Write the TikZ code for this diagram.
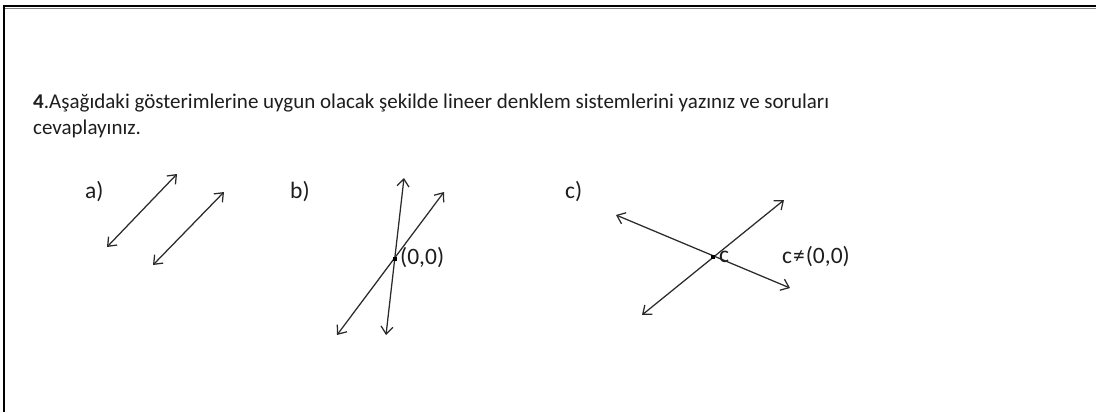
\documentclass[tikz,border=0pt]{standalone}
\usepackage{fontspec}
\setmainfont{Carlito}
\usetikzlibrary{arrows.meta}
\definecolor{ink}{HTML}{1E1E1E}
\definecolor{lineink}{HTML}{2A2A2A}
\tikzset{
  dline/.style={lineink, line width=1.25pt, {Straight Barb[length=7.5pt,width=12pt]}-{Straight Barb[length=7.5pt,width=12pt]}},
  txt/.style={text=ink, inner sep=0pt, font=\fontsize{21}{24}\selectfont},
  lbl/.style={text=ink, inner sep=0pt, font=\fontsize{23.5}{26}\selectfont},
  dotmark/.style={fill=black, inner sep=0pt, minimum size=3.6pt, rectangle}
}
\begin{document}
\begin{tikzpicture}[x=1pt,y=-1pt]
\useasboundingbox (0,0) rectangle (1096,412);
\fill[white] (0,0) rectangle (1096,412);
% frame
\draw[black, line width=1.6pt] (3,6) -- (1096,6);
\draw[gray, line width=1.6pt] (5,8.6) -- (1096,8.6);
\draw[black, line width=1.4pt] (4,5.5) -- (4,412);
% text
\node[txt, anchor=base west] (l1) at (33,109) {\textbf{4}.Aşağıdaki gösterimlerine uygun olacak şekilde lineer denklem sistemlerini yazınız ve soruları};
\node[txt, anchor=base west] (l2) at (33,134) {cevaplayınız.};
% a)
\node[lbl, anchor=base west] (la) at (85,198) {a)};
\coordinate (a1s) at (107,247); \coordinate (a1e) at (177,174);
\coordinate (a2s) at (153,265); \coordinate (a2e) at (224,192);
\draw[dline] (a1s) -- (a1e);
\draw[dline] (a2s) -- (a2e);
% b)
\node[lbl, anchor=base west] (lb) at (290,198) {b)};
\coordinate (b1s) at (386,335); \coordinate (b1e) at (404,178);
\coordinate (b2s) at (337,335); \coordinate (b2e) at (444,192);
\draw[dline] (b1s) -- (b1e);
\draw[dline] (b2s) -- (b2e);
\node[dotmark] (bo) at (395,259) {};
\node[lbl, anchor=west] (lbo) at (400,258) {(0,0)};
% c)
\node[lbl, anchor=base west] (lc) at (565,198) {c)};
\coordinate (c1s) at (616,215); \coordinate (c1e) at (790,288);
\coordinate (c2s) at (642,315); \coordinate (c2e) at (784,200);
\draw[dline] (c1s) -- (c1e);
\draw[dline] (c2s) -- (c2e);
\node[dotmark] (co) at (713,257) {};
\node[lbl, anchor=west] (lco) at (719,257) {c};
\node[lbl, anchor=west] (lcn) at (782,257) {c\kern1pt≠\kern1pt(0,0)};
\end{tikzpicture}
\end{document}
